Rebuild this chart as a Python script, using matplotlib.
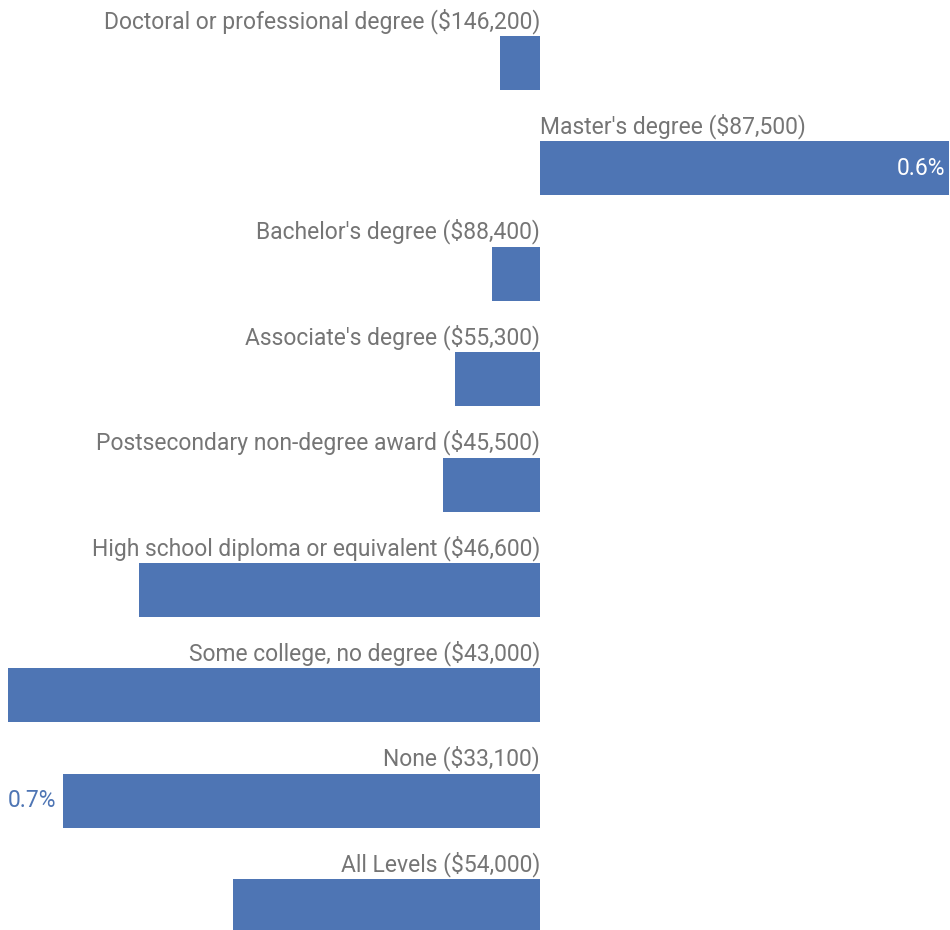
import matplotlib
matplotlib.use("Agg")
import matplotlib.pyplot as plt
import matplotlib.transforms as mtransforms

categories = [
    "Doctoral or professional degree ($146,200)",
    "Master's degree ($87,500)",
    "Bachelor's degree ($88,400)",
    "Associate's degree ($55,300)",
    "Postsecondary non-degree award ($45,500)",
    "High school diploma or equivalent ($46,600)",
    "Some college, no degree ($43,000)",
    "None ($33,100)",
    "All Levels ($54,000)",
]
values = [-0.059, 0.6, -0.07, -0.125, -0.143, -0.588, -0.78, -0.7, -0.45]
value_labels = ["", "0.6%", "", "", "", "", "", "0.7%", ""]

BAR = "#4e75b4"
GRAY = "#757575"
FONT = "Roboto"
FS = 16.5

fig = plt.figure(figsize=(9.5, 9.3), dpi=100)
ax = fig.add_axes([0, 0, 1, 1])
ax.set_axis_off()

ypos = list(range(len(categories)))
ax.barh(ypos, values, height=0.512, color=BAR, linewidth=0)
ax.set_xlim(-540.0 / 681.5, 410.0 / 681.5)
ax.set_ylim(8.226, -0.598)

for y, cat, v, vl in zip(ypos, categories, values, value_labels):
    off = mtransforms.offset_copy(ax.transData, fig=fig, x=0, y=8, units="dots")
    ax.text(0, y - 0.256, cat, transform=off, ha="left" if v >= 0 else "right",
            va="baseline", fontsize=FS, color=GRAY, family=FONT)
    if vl:
        if v >= 0:
            o2 = mtransforms.offset_copy(ax.transData, fig=fig, x=-4, y=0, units="dots")
            ax.text(v, y, vl, transform=o2, ha="right", va="center",
                    fontsize=FS, color="white", family=FONT)
        else:
            o2 = mtransforms.offset_copy(ax.transData, fig=fig, x=-7, y=0, units="dots")
            ax.text(v, y, vl, transform=o2, ha="right", va="center",
                    fontsize=FS, color=BAR, family=FONT)

fig.savefig("out.png", dpi=100)
